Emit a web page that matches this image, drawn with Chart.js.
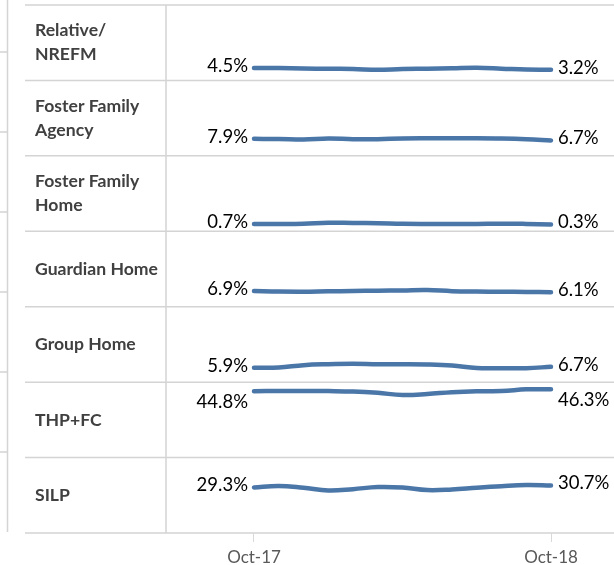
<!DOCTYPE html>
<html><head><meta charset="utf-8">
<script src="https://cdn.jsdelivr.net/npm/chart.js@4.4.1/dist/chart.umd.min.js"></script>
<style>html,body{margin:0;padding:0;background:#fff;} canvas{display:block}</style>
</head><body>
<canvas id="c" width="614" height="565"></canvas>
<script>
const months = ['Oct-17','Nov-17','Dec-17','Jan-18','Feb-18','Mar-18','Apr-18','May-18','Jun-18','Jul-18','Aug-18','Sep-18','Oct-18'];
const categories = [['Relative/','NREFM'],['Foster Family','Agency'],['Foster Family','Home'],['Guardian Home'],['Group Home'],['THP+FC'],['SILP']];
const relative = [4.5, 4.4, 4.1, 3.9, 3.8, 3.1, 3.8, 4.0, 4.3, 4.6, 4.0, 3.3, 3.2];
const fosterFamilyAgency = [7.9, 7.8, 7.4, 8.1, 7.7, 7.7, 8.2, 8.3, 8.3, 8.3, 8.1, 7.6, 6.7];
const fosterFamilyHome = [0.7, 0.7, 0.9, 1.6, 1.4, 1.2, 0.8, 0.7, 0.7, 0.7, 0.9, 0.7, 0.3];
const guardianHome = [6.9, 6.5, 6.4, 6.7, 6.9, 7.2, 7.4, 7.7, 6.8, 6.5, 6.4, 6.2, 6.1];
const groupHome = [5.9, 6.1, 7.9, 8.6, 8.9, 8.6, 8.6, 8.4, 7.6, 5.7, 5.6, 5.6, 6.7];
const thpFc = [44.8, 45.0, 45.0, 44.9, 44.6, 43.6, 42.0, 42.7, 44.1, 44.8, 44.9, 46.2, 46.3];
const silp = [29.3, 30.4, 29.0, 27.0, 28.0, 29.6, 29.2, 27.3, 27.8, 29.1, 30.2, 31.0, 30.7];
const series = [relative, fosterFamilyAgency, fosterFamilyHome, guardianHome, groupHome, thpFc, silp];
const rowMin = -4.8, rowMax = 51.6;

const LINE = '#4a76a8';
const GRID = '#d4d4d4';

const scales = {
  x: {
    type: 'category', labels: months, offset: false,
    afterFit: s => { s.height = 32; },
    grid: { drawOnChartArea: false, drawTicks: true, tickLength: 9, lineWidth: 1,
      color: c => (c.index === 0 || c.index === months.length - 1) ? '#d9d9d9' : 'rgba(0,0,0,0)' },
    border: { display: false },
    ticks: { autoSkip: false, maxRotation: 0, minRotation: 0, padding: 5, color: '#595959',
      font: { family: 'Lato', size: 17 },
      callback: (v, i) => (i === 0 || i === months.length - 1) ? months[i] : '' }
  }
};
series.forEach((s, i) => {
  scales['y' + i] = {
    type: 'linear', position: 'left', stack: 'rows', stackWeight: 1, weight: series.length - i,
    min: rowMin, max: rowMax, display: true,
    grid: { display: false }, border: { display: false }, ticks: { display: false }
  };
});

const datasets = series.map((s, i) => ({
  label: categories[i].join(' '),
  data: s, yAxisID: 'y' + i,
  borderColor: LINE, borderWidth: 4.5, pointRadius: 0, pointHoverRadius: 0,
  tension: 0.4, fill: false, borderCapStyle: 'round', borderJoinStyle: 'round', clip: false,
  labelPlacement: categories[i][0] === 'THP+FC' ? 'below' : 'center'
}));

const tablePlugin = {
  id: 'table',
  beforeDraw(chart) {
    const ctx = chart.ctx;
    const rows = series.map((s, i) => chart.scales['y' + i]);
    const top = rows[0].top, bottom = rows[rows.length - 1].bottom;
    ctx.save();
    ctx.strokeStyle = GRID; ctx.lineWidth = 1.5;
    // outer cropped axis on the far left
    ctx.beginPath();
    ctx.moveTo(7.5, 0); ctx.lineTo(7.5, bottom - 1);
    for (let k = 0; k < 6; k++) { const y = 52 + k * 80; ctx.moveTo(0, y); ctx.lineTo(7.5, y); }
    ctx.stroke();
    ctx.beginPath();
    rows.forEach(r => { ctx.moveTo(25, r.top); ctx.lineTo(chart.width, r.top); });
    ctx.moveTo(25, bottom); ctx.lineTo(chart.width, bottom);
    ctx.moveTo(166, top); ctx.lineTo(166, bottom);
    ctx.stroke();
    // category labels
    ctx.fillStyle = '#404040';
    ctx.font = 'bold 17.6px Lato';
    ctx.textAlign = 'left'; ctx.textBaseline = 'middle';
    rows.forEach((r, i) => {
      const mid = (r.top + r.bottom) / 2;
      const lines = categories[i];
      lines.forEach((t, j) => {
        const y = mid + (j - (lines.length - 1) / 2) * 24;
        ctx.fillText(t, 35, y);
      });
    });
    ctx.restore();
  },
  afterDatasetsDraw(chart) {
    const ctx = chart.ctx;
    ctx.save();
    ctx.fillStyle = '#000000';
    ctx.font = '18.5px Lato';
    ctx.textBaseline = 'middle';
    chart.data.datasets.forEach((ds, i) => {
      const meta = chart.getDatasetMeta(i);
      const first = meta.data[0], last = meta.data[meta.data.length - 1];
      const dy = ds.labelPlacement === 'below' ? 11 : -2;
      ctx.textAlign = 'right';
      ctx.fillText(ds.data[0].toFixed(1) + '%', first.x - 6, first.y + dy);
      ctx.textAlign = 'left';
      ctx.fillText(ds.data[ds.data.length - 1].toFixed(1) + '%', last.x + 7, last.y + dy);
    });
    ctx.restore();
  }
};

new Chart(document.getElementById('c'), {
  type: 'line',
  data: { labels: months, datasets },
  options: {
    responsive: false, animation: false, devicePixelRatio: 1,
    layout: { padding: { left: 246, right: 63, top: 5, bottom: 0 } },
    plugins: { legend: { display: false }, tooltip: { enabled: false } },
    scales
  },
  plugins: [tablePlugin]
});
</script>
</body></html>
